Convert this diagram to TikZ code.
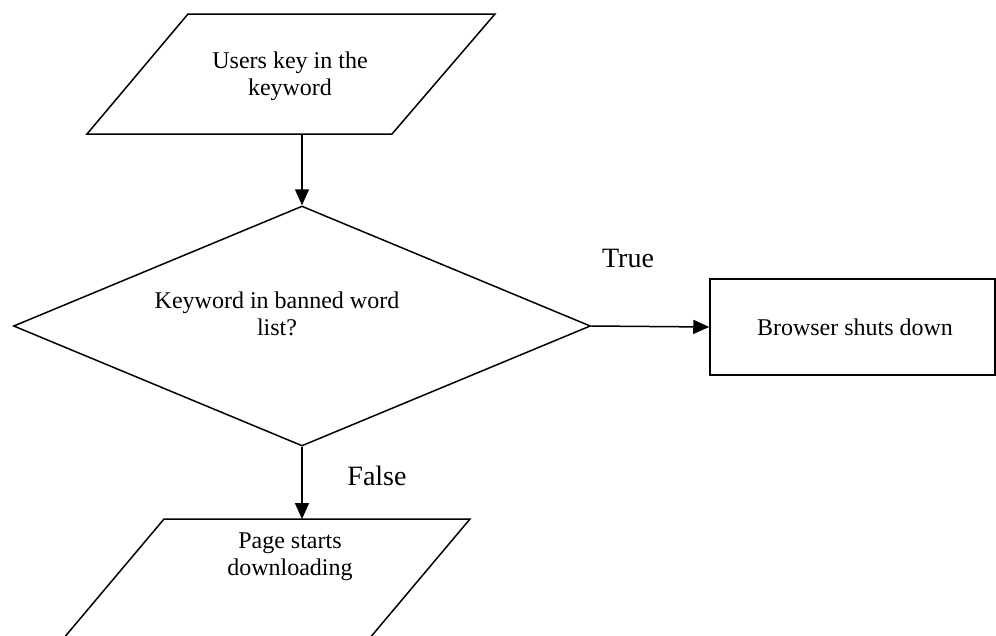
\documentclass[tikz,border=0pt]{standalone}
\usepackage{fontspec}
\setmainfont{Liberation Serif}
\usetikzlibrary{shapes.geometric,arrows.meta}

\tikzset{
  shape line/.style={line width=1.5pt},
  boxtext/.style={align=center, font=\fontsize{24}{27}\selectfont},
  decision/.style={draw, shape line, diamond, aspect=2.4, minimum width=577pt,
    minimum height=240pt, inner sep=0pt},
  process/.style={draw, shape line, rectangle, minimum width=285pt, minimum height=96pt},
  flow/.style={line width=1.5pt, -{Triangle[length=16pt,width=14pt]}},
  branch/.style={font=\fontsize{28}{32}\selectfont}
}

\begin{document}
\begin{tikzpicture}[x=1pt,y=-1pt]
        \useasboundingbox (0,0) rectangle (996,635);

        % input / output parallelograms
        \draw[shape line] (188,14) -- (495,14) -- (392,134) -- (87,134) -- cycle;
        \draw[shape line] (164,519) -- (470,519) -- (369,639) -- (63,639) -- cycle;
        \coordinate (inputbot) at (302,134);
        \coordinate (outputtop) at (302,519);

        \node[decision] (check) at (302,326) {};
        \node[process] (shutdown) at (852.5,327) {};

        \node[boxtext] (inputtext) at (290,76) {Users key in the\\keyword};
        \node[boxtext] (checktext) at (277,314) {Keyword in banned word\\list?};
        \node[boxtext] (shuttext) at (855,327) {Browser shuts down};
        \node[boxtext] (outputtext) at (290,557) {Page starts\\downloading};

        \draw[flow] (inputbot) -- (check.north);
        \draw[flow] (check.east) -- (shutdown.west);
        \draw[flow] (check.south) -- (outputtop);

        \node[branch] (truelabel) at (628,258) {True};
        \node[branch] (falselabel) at (377,476) {False};

\end{tikzpicture}
\end{document}
